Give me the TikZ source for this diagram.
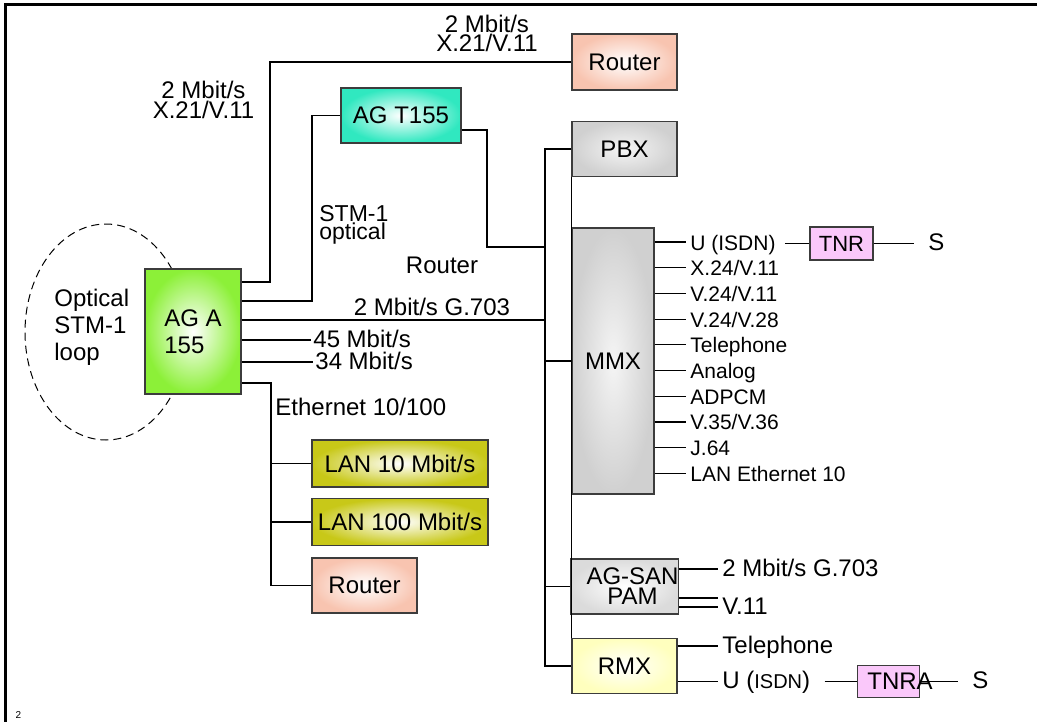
\documentclass[tikz,border=0pt]{standalone}
\usepackage{fontspec}
\setmainfont{Liberation Sans}
\usetikzlibrary{positioning, calc}
\definecolor{routerpink}{RGB}{248,196,176}
\definecolor{agteal}{RGB}{48,232,192}
\definecolor{aggreen}{RGB}{140,240,56}
\definecolor{lanolive}{RGB}{200,200,24}
\definecolor{boxgray}{RGB}{208,208,208}
\definecolor{tnrpink}{RGB}{250,200,250}
\definecolor{rmxyellow}{RGB}{255,255,190}
\definecolor{edgegray}{RGB}{60,60,60}

\begin{document}
\begin{tikzpicture}[x=0.5pt, y=-0.5pt,
				box/.style={rectangle, draw=edgegray, line width=0.7pt, shade, shading=radial, inner color=white, outer color=#1, minimum width=52.5pt, minimum height=27.5pt, inner sep=0pt, align=center, font=\fontsize{12}{13.5}\selectfont},
				box/.default=boxgray,
				graybox/.style={box=boxgray, inner color=gray!8},
				tag/.style={rectangle, draw=edgegray, line width=0.7pt, fill=tnrpink, inner sep=0pt, minimum width=31.5pt, minimum height=16.5pt, font=\fontsize{12}{14}\selectfont},
				wire/.style={line width=0.6pt},
				ring/.style={line width=0.5pt, dash pattern=on 4pt off 2.5pt},
				note/.style={inner sep=0pt, align=center, font={\fontsize{12}{9.5}\selectfont\lineskiplimit=-20pt}},
				lbl/.style={anchor=west, inner xsep=2pt, inner ysep=0pt, text height=0.72em, text depth=0pt, font=\fontsize{12}{14}\selectfont},
				port/.style={lbl, text height=0.8em, font=\fontsize{10.5}{12}\selectfont}
				]
				\useasboundingbox (0,0) rectangle (1037,722);
				\draw[line width=1.25pt] (1037,4.5) -- (5.5,4.5) -- (5.5,722);
				\node[inner sep=0pt, font=\fontsize{5}{6}\selectfont] (pageno) at (18.5,714.5) {2};
				
				\draw[ring] (106,332) ellipse [x radius=40.5pt, y radius=54pt];
				\node[note, align=left, anchor=west, font=\fontsize{12}{13.5}\selectfont] (looptxt) at (54,327) {Optical\\STM-1\\loop};
				
				\node[box=routerpink, minimum height=28pt] (routerA) at (624.5,62) {Router};
				\node[graybox, below=15pt of routerA] (pbx) {PBX};
				\node[box=agteal, minimum width=60pt] (agt) at (401,115.5) {AG T155};
				\node[graybox, minimum width=41pt, minimum height=133pt] (mmx) at (613,361) {MMX};
				\node[box=aggreen, minimum width=48pt, minimum height=62.5pt, align=left] (aga) at (193,331.5) {AG A\\155};
				\node[box=lanolive, minimum width=88pt, minimum height=23.5pt] (lan10) at (400,463.5) {LAN 10 Mbit/s};
				\node[box=lanolive, minimum width=88pt, minimum height=23.5pt, below=5pt of lan10] (lan100) {LAN 100 Mbit/s};
				\node[box=routerpink, below=5.5pt of lan100.south west, anchor=north west] (routerB) {Router};
				\node[box={gray!28}, font={\fontsize{12}{10}\selectfont\lineskiplimit=-20pt}] (agsan) at (624.5,586.5) {\hspace*{8pt}AG-SAN\\\hspace*{8pt}PAM};
				\node[box=rmxyellow, below=11.5pt of agsan] (rmx) {RMX};
				
				\node[note] (rateTop) at (487,33) {2 Mbit/s\\X.21/V.11};
				\node[note, font={\fontsize{12}{10}\selectfont}] (rateLeft) at (203.5,100) {2 Mbit/s\\X.21/V.11};
				\node[note, align=left, anchor=west, font={\fontsize{11.5}{9}\selectfont\lineskiplimit=-20pt}] (stm) at (319,225) {STM-1\\optical};
				\node[note] (routertxt) at (442,265) {Router};
				\node[note] (g703main) at (432,307) {2 Mbit/s G.703};
				\node[note, anchor=west] (eth10) at (275,407) {Ethernet 10/100};
				
				\coordinate (bus) at (545,400);
				\coordinate (eth) at (271,383);
				\draw[wire] (aga.east |- 0,282) -| (270,62) -- (routerA.west);
				\draw[wire] (aga.east |- 0,301) -| (312,115.5) -- (agt.west);
				\draw[wire] (agt.east |- 0,130) -| (487,247) -- (bus |- 0,247);
				\draw[wire] (aga.east |- 0,320) -- (bus |- 0,320);
				\draw[wire] (pbx.west) -| (bus) |- (rmx.west);
				\draw[wire] (mmx.west) -- (mmx.west -| bus);
				\draw[wire] (agsan.west) -- (agsan.west -| bus);
				\draw[wire] (pbx.south west) -- (rmx.north west);
				
				\node[lbl, inner xsep=1pt] (r45) at (311,340) {45 Mbit/s};
				\node[lbl, inner xsep=1pt] (r34) at (313,362) {34 Mbit/s};
				\draw[wire] (aga.east |- r45.west) -- (r45.west);
				\draw[wire] (aga.east |- r34.west) -- (r34.west);
				
				\draw[wire] (aga.east |- eth) -- (eth) |- (routerB.west);
				\draw[wire] (lan10.west -| eth) -- (lan10.west);
				\draw[wire] (lan100.west -| eth) -- (lan100.west);
				
				\foreach \t [count=\i] in {U (ISDN), X.24/V.11, V.24/V.11, V.24/V.28, Telephone, Analog, ADPCM, V.35/V.36, J.64, LAN Ethernet 10} {
					\node[port] (p\i) at (686,242+25.7*\i-25.7) {\t};
					\draw[wire] (mmx.east |- p\i.west) -- (p\i.west);
				}
				\node[tag, font=\fontsize{11}{13}\selectfont] (tnr) at (841.5,243.5) {TNR};
				\node[lbl] (sA) at (924,243.5) {S};
				\draw[wire, shorten <=2.5pt] (p1.east |- tnr.west) -- (tnr.west);
				\draw[wire, shorten >=5pt] (tnr.east) -- (sA.west);
				
				\node[lbl] (g703) at (718,569) {2 Mbit/s G.703};
				\node[lbl] (v11) at (718,607) {V.11};
				\draw[wire] (agsan.east |- g703.west) -- (g703.west);
				\draw[wire] (agsan.east |- 0,598) -- (v11.west |- 0,598);
				\draw[wire] (agsan.east |- v11.west) -- (v11.west);
				
				\node[lbl] (tel) at (718,646) {Telephone};
				\node[lbl] (risdn) at (718,681.5) {U (\fontsize{10}{12}\selectfont ISDN\fontsize{12}{14}\selectfont)};
				\draw[wire] (rmx.east |- risdn.west) -- (risdn.west);
				\draw[wire] (rmx.east |- tel.west) -- (tel.west);
				\node[tag, minimum width=31pt, minimum height=16pt, anchor=west] (tnra) at (857,681.5) {};
				\node[inner sep=0pt, anchor=west, font=\fontsize{12}{14}\selectfont] (tnratxt) at (867,681.5) {TNRA};
				\node[lbl] (sB) at (968,681.5) {S};
				\draw[wire, shorten <=5pt] (risdn.east) -- (tnra.west);
				\draw[wire, shorten >=5pt] (tnra.east) -- (sB.west);
\end{tikzpicture}
\end{document}
